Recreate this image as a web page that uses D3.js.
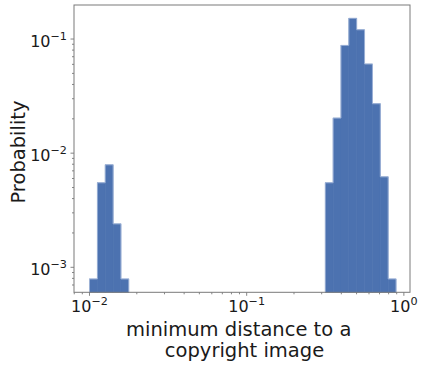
<!DOCTYPE html>
<html>
<head>
<meta charset="utf-8">
<script src="https://cdn.jsdelivr.net/npm/d3@7"></script>
<style>
  html, body { margin: 0; padding: 0; background: #fff; }
  svg { display: block; font-family: "DejaVu Sans", sans-serif; }
</style>
</head>
<body>
<div id="chart"></div>
<script>
// histogram bins (log-spaced, 0.05 decade) and probability per bin
const binLo = [0.01, 0.01122, 0.01259, 0.01413, 0.01585,
  0.3162, 0.3548, 0.3981, 0.4467, 0.5012, 0.5623, 0.6310, 0.7079, 0.7943];
const binHi = [0.01122, 0.01259, 0.01413, 0.01585, 0.01778,
  0.3548, 0.3981, 0.4467, 0.5012, 0.5623, 0.6310, 0.7079, 0.7943, 0.8913];
const probability = [0.00079, 0.0055, 0.0079, 0.0024, 0.00079,
  0.0055, 0.0203, 0.088, 0.152, 0.1205, 0.0604, 0.0271, 0.0062, 0.00079];

const xTicks = [0.01, 0.1, 1];
const xTickExp = ['\u22122', '\u22121', '0'];
const yTicks = [0.001, 0.01, 0.1];
const yTickExp = ['\u22123', '\u22122', '\u22121'];

const W = 423, H = 366;
const plotL = 74, plotR = 410, plotT = 5, plotB = 292.3;

const svg = d3.select('#chart').append('svg')
  .attr('width', W).attr('height', H);

const x = d3.scaleLog().domain([0.00797, 1.094]).range([plotL, plotR]);
const y = d3.scaleLog().domain([0.000604, 0.1987]).range([plotB, plotT]);

const bins = binLo.map((lo, i) => ({ lo, hi: binHi[i], p: probability[i] }));

// split into contiguous runs so each run gets one step outline
const runs = [];
bins.forEach((b, i) => {
  if (i === 0 || Math.abs(bins[i - 1].hi - b.lo) > 1e-9) runs.push([]);
  runs[runs.length - 1].push(b);
});

const fill = '#4c72b0';

svg.append('g')
  .selectAll('rect')
  .data(bins)
  .join('rect')
  .attr('x', d => x(d.lo))
  .attr('width', d => x(d.hi) - x(d.lo))
  .attr('y', d => y(d.p))
  .attr('height', d => plotB - y(d.p))
  .attr('fill', fill)
  .attr('stroke', fill)
  .attr('stroke-width', 0.6);

const outline = run => {
  const p = d3.path();
  p.moveTo(x(run[0].lo), plotB);
  run.forEach(b => {
    p.lineTo(x(b.lo), y(b.p));
    p.lineTo(x(b.hi), y(b.p));
  });
  p.lineTo(x(run[run.length - 1].hi), plotB);
  return p.toString();
};

svg.append('g')
  .selectAll('path')
  .data(runs)
  .join('path')
  .attr('d', outline)
  .attr('fill', 'none')
  .attr('stroke', '#a8bbdc')
  .attr('stroke-width', 0.8);

// minor ticks
const xMinor = [];
[0.001, 0.01, 0.1].forEach(dec => {
  for (let k = 2; k <= 9; k++) {
    const v = k * dec;
    if (v > x.domain()[0] && v < x.domain()[1]) xMinor.push(v);
  }
});
const yMinor = [];
[0.0001, 0.001, 0.01, 0.1].forEach(dec => {
  for (let k = 2; k <= 9; k++) {
    const v = k * dec;
    if (v > y.domain()[0] && v < y.domain()[1]) yMinor.push(v);
  }
});

const tickColor = '#666';
const g = svg.append('g').attr('stroke', tickColor).attr('stroke-width', 0.8);

g.selectAll('.xmin').data(xMinor).join('line')
  .attr('x1', d => x(d)).attr('x2', d => x(d))
  .attr('y1', plotB).attr('y2', plotB + 2);
g.selectAll('.xmaj').data(xTicks).join('line')
  .attr('x1', d => x(d)).attr('x2', d => x(d))
  .attr('y1', plotB).attr('y2', plotB + 3.5);
g.selectAll('.ymin').data(yMinor).join('line')
  .attr('y1', d => y(d)).attr('y2', d => y(d))
  .attr('x1', plotL).attr('x2', plotL - 2);
g.selectAll('.ymaj').data(yTicks).join('line')
  .attr('y1', d => y(d)).attr('y2', d => y(d))
  .attr('x1', plotL).attr('x2', plotL - 3.5);

// frame
svg.append('rect')
  .attr('x', plotL).attr('y', plotT)
  .attr('width', plotR - plotL).attr('height', plotB - plotT)
  .attr('fill', 'none').attr('stroke', '#7a7a7a').attr('stroke-width', 1);

function powLabel(sel, exp) {
  sel.append('tspan').text('10');
  sel.append('tspan').attr('font-size', '11.2px').attr('dy', -7).text(exp);
}

xTicks.forEach((t, i) => {
  const txt = svg.append('text')
    .attr('x', x(t)).attr('y', 311.5)
    .attr('text-anchor', 'middle')
    .attr('font-size', '16px').attr('fill', '#1a1a1a');
  powLabel(txt, xTickExp[i]);
});

yTicks.forEach((t, i) => {
  const txt = svg.append('text')
    .attr('x', 67).attr('y', y(t) + 7.5)
    .attr('text-anchor', 'end')
    .attr('font-size', '16px').attr('fill', '#1a1a1a');
  powLabel(txt, yTickExp[i]);
});

svg.append('text')
  .attr('transform', `translate(25,152) rotate(-90)`)
  .attr('text-anchor', 'middle')
  .attr('font-size', '19.5px').attr('fill', '#1a1a1a')
  .text('Probability');

svg.append('text')
  .attr('x', 238.7).attr('y', 336)
  .attr('text-anchor', 'middle')
  .attr('font-size', '19.5px').attr('fill', '#1a1a1a')
  .text('minimum distance to a');
svg.append('text')
  .attr('x', 244.5).attr('y', 357)
  .attr('text-anchor', 'middle')
  .attr('font-size', '19.5px').attr('fill', '#1a1a1a')
  .text('copyright image');
</script>
</body>
</html>
